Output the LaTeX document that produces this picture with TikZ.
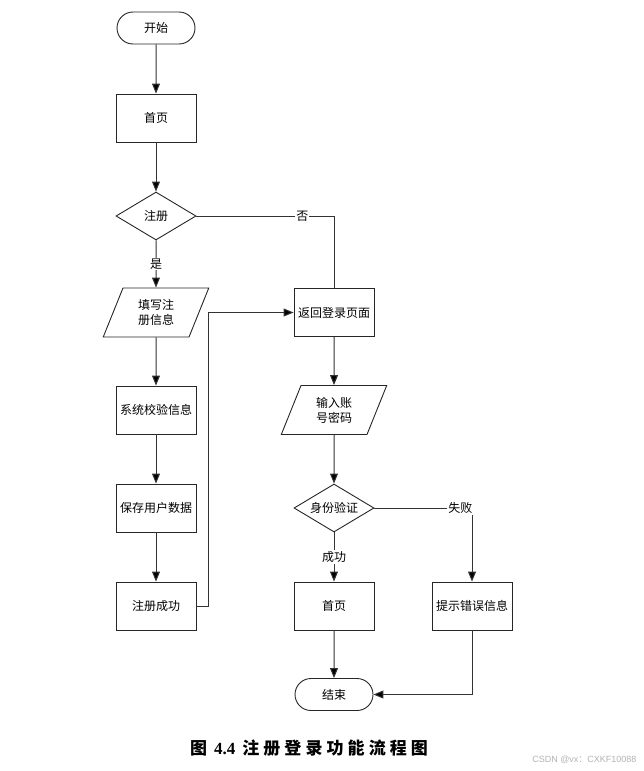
\documentclass[tikz,border=0pt]{standalone}
\usepackage{fontspec}
\setmainfont{Liberation Sans}
\newfontfamily\cjk{Noto Sans CJK SC}
\newfontfamily\capcjk{Noto Sans CJK SC}[LetterSpace=24]
\newfontfamily\capser{Liberation Serif}
\usetikzlibrary{shapes.geometric,shapes.misc,arrows.meta,calc}
\tikzset{
  base/.style={draw=black!85, line width=0.9pt, font=\cjk\fontsize{12}{15}\selectfont, align=center, inner sep=1pt},
  proc/.style={base, rectangle, minimum width=80pt, minimum height=48pt},
  term/.style={base, rounded rectangle, minimum width=80pt, minimum height=32pt},
  dec/.style={base, diamond, aspect=1.667, minimum width=80pt, minimum height=48pt, inner sep=0pt},
  io/.style={base, trapezium, trapezium left angle=68, trapezium right angle=112, trapezium stretches=true, minimum width=106pt, minimum height=49pt},
  arr/.style={draw=black!80, line width=1pt, -{Triangle[length=10pt,width=8pt,fill=black]}},
  ln/.style={draw=black!80, line width=1pt},
  lbl/.style={fill=white, inner sep=1pt, font=\cjk\fontsize{12}{14}\selectfont}
}
\begin{document}
\begin{tikzpicture}[x=1pt,y=-1pt]
\useasboundingbox (0,0) rectangle (644,771);
\node[term] (start) at (156,28) {开始};
\node[proc] (home1) at (156,118) {首页};
\node[dec]  (reg)   at (156,216) {注册};
\node[io]   (fill)  at (156,312.5) {填写注\\册信息};
\node[proc] (check) at (156,410) {系统校验信息};
\node[proc] (save)  at (156,508) {保存用户数据};
\node[proc] (succ)  at (156,606) {注册成功};
\node[proc] (back)  at (334,312.5) {返回登录页面};
\node[io]   (input) at (334,410) {输入账\\号密码};
\node[dec]  (auth)  at (334,508) {身份验证};
\node[proc] (home2) at (334,606) {首页};
\node[proc] (err)   at (472,606) {提示错误信息};
\node[term] (end)   at (334,694.5) {结束};
\coordinate (j) at (208,606);

\draw[arr] (start) -- (home1);
\draw[arr] (home1) -- (reg);
\draw[arr] (reg) -- node[lbl]{是} (fill);
\draw[ln] (reg.east) -- node[lbl,pos=0.77]{否} (reg.east -| back.north) -- (back.north);
\draw[arr] (fill) -- (check);
\draw[arr] (check) -- (save);
\draw[arr] (save) -- (succ);
\draw[arr] (succ.east) -- (j) |- (back.west);
\draw[arr] (back) -- (input);
\draw[arr] (input) -- (auth);
\draw[arr] (auth) -- node[lbl]{成功} (home2);
\draw[arr] (auth.east) -- node[lbl,pos=0.88]{失败} (auth.east -| err.north) -- (err.north);
\draw[arr] (home2) -- (end);
\draw[arr] (err.south) |- (end.east);

\node[font=\fontsize{17}{20}\selectfont\bfseries] (cap) at (309,748) {\capcjk 图\hspace{7pt}\capser 4.4\hspace{7pt}\capcjk 注册登录功能流程图};
\node[font=\fontsize{9}{11}\selectfont, text=black!30, anchor=east] (wm) at (640,760) {CSDN @vx\cjk ：\rmfamily CXKF10088};
\end{tikzpicture}
\end{document}
